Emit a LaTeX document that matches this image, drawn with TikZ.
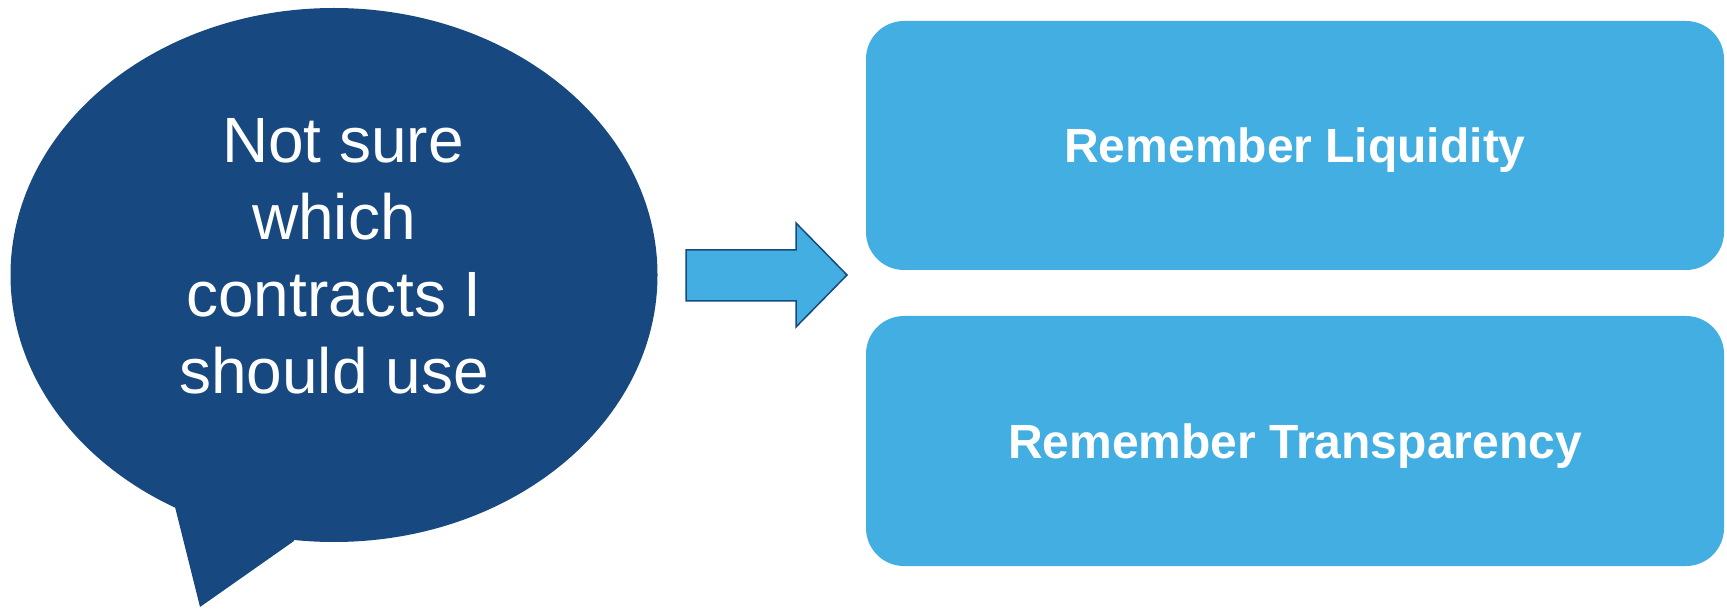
\documentclass[tikz,border=0pt]{standalone}
\usepackage{fontspec}
\setmainfont{Liberation Sans}
\usepackage{tikz}
\usetikzlibrary{shapes.geometric, positioning, calc}
\usepackage{xcolor}

\definecolor{bubbleblue}{RGB}{23,73,128}
\definecolor{boxblue}{RGB}{67,174,226}

\begin{document}
\begin{tikzpicture}[x=1pt, y=-1pt,
    bubble/.style={ellipse, fill=bubbleblue, inner sep=0pt, minimum width=647pt, minimum height=534pt},
    remember/.style={rectangle, rounded corners=38pt, fill=boxblue, text=white, text depth=0pt, minimum width=858pt, minimum height=249pt, font=\fontsize{48}{56}\selectfont\bfseries}]
      \useasboundingbox (0, 0) rectangle (1727, 609);

      % speech bubble with its tail
      \fill[bubbleblue] (175, 507) -- (200, 607) -- (294, 541) -- (260, 470) -- cycle;
      \node[bubble] (bubble) at (334, 275) {};
      \node[text=white, align=center, font=\fontsize{64}{77}\selectfont] (question) at (334, 256) {\hspace*{18pt}Not sure\\which\\contracts I\\should use};

      % block arrow
      \filldraw[fill=boxblue, draw=bubbleblue, line width=1.5pt, line join=miter]
        (686, 250) -- (796, 250) -- (796, 223) -- (847, 275) -- (796, 327) -- (796, 301) -- (686, 301) -- cycle;

      \node[remember] (liquidity) at (1295, 145.5) {Remember Liquidity};
      \node[remember, minimum height=250pt] (transparency) at (1295, 441) {Remember Transparency};
    \end{tikzpicture}
\end{document}
